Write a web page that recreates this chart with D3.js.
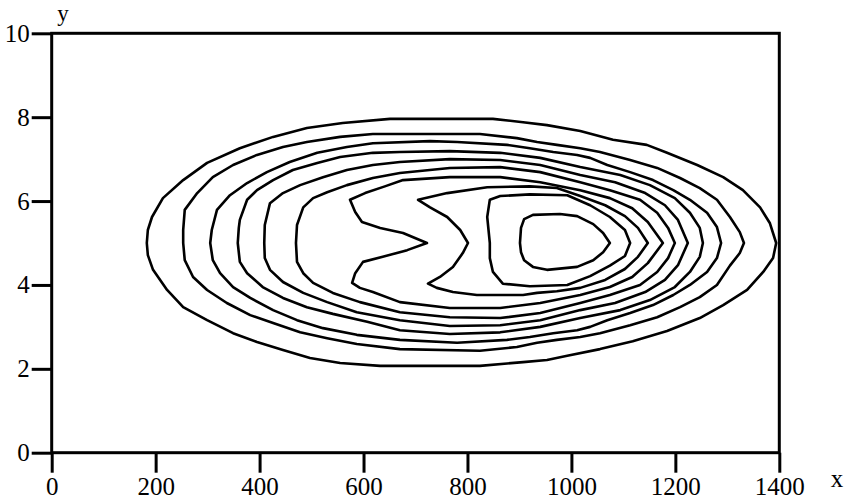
<!DOCTYPE html>
<html>
<head>
<meta charset="utf-8">
<script src="https://cdn.jsdelivr.net/npm/d3@7"></script>
<style>
  body { margin: 0; background: #fff; }
  text { font-family: "Liberation Serif", "Times New Roman", serif; }
</style>
</head>
<body>
<div id="chart-area"></div>
<script>
// Contour lines (x, y), outermost first
const contour1 = [[183,5.00],[185,5.31],[193,5.62],[214,6.07],[253,6.50],[299,6.91],[362,7.26],[426,7.53],[491,7.74],[560,7.86],[651,7.96],[849,7.96],[907,7.88],[953,7.81],[1017,7.67],[1080,7.46],[1145,7.34],[1184,7.15],[1242,6.86],[1292,6.57],[1330,6.26],[1363,5.85],[1382,5.47],[1394,5.00],
  [1388,4.64],[1369,4.31],[1338,3.88],[1292,3.52],[1247,3.21],[1184,2.90],[1118,2.66],[1055,2.47],[992,2.31],[953,2.21],[907,2.16],[824,2.07],[632,2.07],[555,2.14],[497,2.26],[445,2.45],[395,2.64],[349,2.85],[299,3.16],[253,3.47],[222,3.88],[195,4.36],[185,4.71]];
const contour2 = [[253,5.00],[253,5.31],[256,5.79],[280,6.19],[310,6.57],[349,6.86],[395,7.10],[445,7.29],[491,7.41],[555,7.53],[618,7.60],[824,7.60],[895,7.50],[934,7.41],[972,7.34],[1017,7.26],[1055,7.17],[1113,6.98],[1165,6.79],[1209,6.55],[1247,6.31],[1280,6.03],[1305,5.62],[1324,5.26],[1332,5.00],
  [1324,4.76],[1305,4.46],[1280,4.00],[1247,3.71],[1209,3.47],[1165,3.23],[1113,3.04],[1055,2.85],[1017,2.76],[972,2.69],[934,2.62],[895,2.52],[824,2.43],[670,2.47],[587,2.59],[530,2.73],[478,2.87],[426,3.09],[382,3.28],[337,3.57],[299,3.88],[272,4.19],[256,4.59]];
const contour3 = [[305,5.00],[308,5.31],[318,5.79],[343,6.14],[376,6.43],[414,6.69],[458,6.93],[511,7.15],[568,7.29],[618,7.38],[728,7.43],[780,7.41],[876,7.34],[920,7.26],[965,7.17],[1011,7.10],[1036,7.03],[1069,6.86],[1113,6.69],[1157,6.50],[1196,6.26],[1228,6.03],[1261,5.72],[1280,5.38],[1288,5.00],
  [1280,4.64],[1261,4.31],[1228,4.00],[1196,3.76],[1157,3.52],[1113,3.33],[1069,3.16],[1036,3.00],[1011,2.92],[965,2.85],[920,2.76],[876,2.69],[780,2.62],[670,2.69],[587,2.81],[522,2.97],[472,3.16],[426,3.40],[382,3.69],[349,3.95],[324,4.28],[310,4.59]];
const contour4 = [[358,5.00],[360,5.36],[362,5.55],[376,6.03],[395,6.26],[426,6.50],[464,6.74],[511,6.91],[555,7.05],[618,7.15],[670,7.17],[766,7.19],[863,7.15],[940,7.03],[1017,6.81],[1094,6.62],[1151,6.38],[1199,6.07],[1228,5.72],[1247,5.36],[1253,5.00],
  [1247,4.67],[1228,4.31],[1199,3.95],[1151,3.64],[1094,3.40],[1017,3.21],[940,3.00],[863,2.87],[766,2.83],[670,2.92],[607,3.12],[541,3.31],[491,3.47],[445,3.69],[406,3.95],[376,4.28],[362,4.55]];
const contour5 = [[409,5.00],[410,5.43],[420,5.95],[445,6.19],[478,6.38],[522,6.57],[568,6.74],[618,6.86],[670,6.93],[766,7.00],[863,6.98],[940,6.86],[1017,6.62],[1084,6.45],[1142,6.19],[1180,5.90],[1205,5.55],[1224,5.00],
  [1205,4.47],[1180,4.12],[1142,3.83],[1084,3.57],[1017,3.40],[940,3.16],[863,3.04],[766,3.02],[670,3.16],[587,3.35],[530,3.59],[484,3.81],[445,4.07],[420,4.36],[410,4.64]];
const contour6 = [[470,5.00],[472,5.43],[484,5.85],[503,6.07],[530,6.21],[568,6.38],[618,6.55],[670,6.67],[766,6.79],[863,6.81],[940,6.69],[1017,6.45],[1074,6.26],[1132,6.03],[1165,5.72],[1186,5.36],[1199,5.00],
  [1186,4.64],[1165,4.31],[1132,4.00],[1074,3.76],[1017,3.57],[940,3.33],[863,3.21],[766,3.23],[670,3.35],[593,3.59],[541,3.81],[503,4.05],[484,4.28],[472,4.55]];
const contour7 = [[722,5.00],[676,5.24],[632,5.36],[597,5.50],[584,5.74],[574,6.03],[603,6.19],[641,6.35],[676,6.50],[766,6.57],[863,6.57],[940,6.45],[1017,6.26],[1074,6.07],[1117,5.83],[1147,5.50],[1176,5.00],
  [1147,4.52],[1117,4.19],[1074,3.95],[1017,3.76],[940,3.57],[863,3.45],[766,3.45],[670,3.59],[618,3.83],[593,3.93],[578,4.05],[584,4.28],[599,4.55],[637,4.67],[684,4.83]];
const contour8 = [[801,5.00],[786,5.31],[761,5.62],[728,5.85],[705,6.03],[761,6.19],[838,6.33],[920,6.35],[972,6.31],[1017,6.12],[1065,5.90],[1103,5.64],[1128,5.36],[1147,5.00],
  [1128,4.67],[1103,4.38],[1065,4.12],[1017,3.93],[972,3.85],[934,3.81],[907,3.76],[818,3.76],[772,3.83],[741,3.93],[724,4.03],[747,4.19],[772,4.43],[791,4.76]];
const contour9 = [[843,5.00],[838,5.62],[843,6.03],[863,6.12],[920,6.16],[992,6.14],[1036,5.90],[1074,5.62],[1103,5.31],[1113,5.00],
  [1103,4.69],[1074,4.46],[1036,4.21],[992,4.00],[920,3.97],[868,4.03],[849,4.31],[843,4.64]];
const contour10 = [[901,5.00],[903,5.36],[909,5.57],[926,5.67],[978,5.69],[1011,5.64],[1042,5.45],[1061,5.24],[1074,5.00],
  [1061,4.78],[1042,4.59],[1011,4.43],[953,4.36],[926,4.43],[909,4.59],[903,4.78]];

const contours = [contour1, contour2, contour3, contour4, contour5,
  contour6, contour7, contour8, contour9, contour10];

const xTicks = [0, 200, 400, 600, 800, 1000, 1200, 1400];
const yTicks = [0, 2, 4, 6, 8, 10];

const margin = {left: 51.7, right: 64.7, top: 33.3, bottom: 50.3},
  width = 844 - margin.left - margin.right,
  height = 503 - margin.top - margin.bottom;

const svg = d3.select("#chart-area").append("svg")
  .attr("width", 844)
  .attr("height", 503);

const g = svg.append("g")
  .attr("transform", "translate(" + margin.left + "," + margin.top + ")");

// Scales
const x = d3.scaleLinear().domain([0, 1400]).range([0, width]);
const y = d3.scaleLinear().domain([0, 10]).range([height, 0]);

// Contour lines
const line = d3.line()
  .x(d => x(d[0]))
  .y(d => y(d[1]))
  .curve(d3.curveLinearClosed);

g.selectAll(".contour")
  .data(contours)
  .enter().append("path")
  .attr("class", "contour")
  .attr("fill", "none")
  .attr("stroke", "#000")
  .attr("stroke-width", 2.6)
  .attr("stroke-linejoin", "round")
  .attr("d", line);

// Axes
const xAxis = g.append("g")
  .attr("transform", "translate(0," + height + ")")
  .call(d3.axisBottom(x).tickValues(xTicks).tickFormat(d3.format("d"))
    .tickSize(20).tickSizeOuter(0).tickPadding(5));
const yAxis = g.append("g")
  .call(d3.axisLeft(y).tickValues(yTicks).tickFormat(d3.format("d"))
    .tickSize(20).tickSizeOuter(0).tickPadding(2));

[xAxis, yAxis].forEach(a => {
  a.select(".domain").remove();
  a.selectAll(".tick line").attr("stroke", "#000").attr("stroke-width", 3);
  a.selectAll(".tick text")
    .attr("fill", "#000")
    .style("font-size", "25px");
});

// Frame
g.append("rect")
  .attr("width", width)
  .attr("height", height)
  .attr("fill", "none")
  .attr("stroke", "#000")
  .attr("stroke-width", 3);

// Axis titles
svg.append("text")
  .attr("x", 63)
  .attr("y", 21)
  .attr("text-anchor", "middle")
  .style("font-size", "23px")
  .text("y");

svg.append("text")
  .attr("x", 837)
  .attr("y", 487)
  .attr("text-anchor", "middle")
  .style("font-size", "25px")
  .text("x");
</script>
</body>
</html>
